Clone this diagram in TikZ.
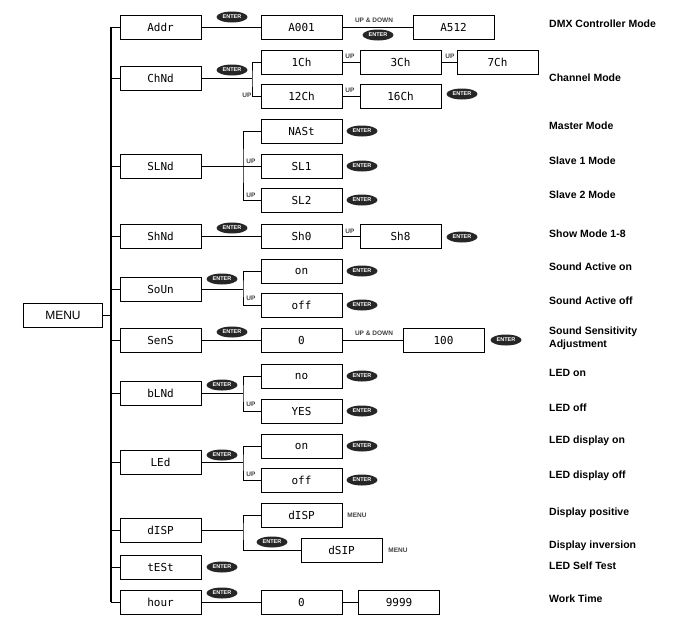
\documentclass[tikz,border=0pt]{standalone}
\usepackage{fontspec}
\setmainfont{Liberation Sans}
\newfontfamily\lcd{DejaVu Sans Mono}
\usetikzlibrary{shapes.geometric}
\begin{document}
\begin{tikzpicture}[x=1pt,y=-1pt,
  box/.style={draw,line width=0.8pt,minimum width=81pt,minimum height=24pt,inner sep=0pt,font=\lcd\fontsize{11}{11}\selectfont},
  ent/.style={ellipse,fill=black!85,text=white,inner sep=0pt,minimum width=31pt,minimum height=11pt,font=\bfseries\fontsize{5.5}{5.5}\selectfont},
  up/.style={font=\bfseries\fontsize{6.5}{6.5}\selectfont,text=black!75,inner sep=1pt},
  lab/.style={anchor=west,font=\bfseries\fontsize{10.5}{13}\selectfont,align=left,inner sep=0pt},
  ln/.style={line width=0.8pt}]
\useasboundingbox (0,0) rectangle (693,630);
\node[draw,line width=0.8pt,minimum width=79pt,minimum height=24pt,font=\fontsize{12}{12}\selectfont] (menu) at (63,315) {MENU};
% main column
\foreach \n/\t/\y in {addr/Addr/27,chnd/ChNd/78,slnd/SLNd/166,shnd/ShNd/236,soun/SoUn/289,sens/SenS/340,blnd/bLNd/393,led/LEd/462,disp/dISP/530,test/tESt/567,hour/hour/602}{
  \node[box] (\n) at (160.5,\y) {\t};
  \coordinate (s\n) at (111,\y);
  \draw[ln] (s\n) -- (\n.west);
}
\draw[line width=1.2pt] (saddr) -- (shour);
\draw[ln] (menu.east) -- (111,315);
% second column
\foreach \n/\t/\y in {a001/A001/27,c1/1Ch/62,c12/12Ch/96,nast/NASt/131,sl1/SL1/166,sl2/SL2/200,sh0/Sh0/236,son/on/271,soff/off/305,s0/0/340,no/no/376,yes/YES/411,lon/on/446,loff/off/480,dd/dISP/515,h0/0/602}{
  \node[box] (\n) at (301.5,\y) {\t};
}
\node[box] (dsip) at (341.5,550) {dSIP};
\node[box] (a512) at (453.5,27) {A512};
\node[box] (c3) at (400.5,62) {3Ch};
\node[box] (c7) at (497.5,62) {7Ch};
\node[box] (c16) at (400.5,96) {16Ch};
\node[box] (sh8) at (400.5,236) {Sh8};
\node[box] (s100) at (443.5,340) {100};
\node[box] (h9) at (399,602) {9999};
% connectors
\draw[ln] (addr) -- (a001);
\draw[ln] (a001) -- (a512);
\draw[ln] (chnd.east) -- (252,78) coordinate (jc);
\draw[ln] (c1.west) -| (jc) |- (c12.west);
\draw[ln] (c1) -- (c3); \draw[ln] (c3) -- (c7); \draw[ln] (c12) -- (c16);
\draw[ln] (slnd.east) -- (243,166) coordinate (js);
\draw[ln] (nast.west) -| (js) |- (sl2.west); \draw[ln] (js) -- (sl1.west);
\draw[ln] (shnd) -- (sh0); \draw[ln] (sh0) -- (sh8);
\draw[ln] (soun.east) -- (243,289) coordinate (jo);
\draw[ln] (son.west) -| (jo) |- (soff.west);
\draw[ln] (sens) -- (s0); \draw[ln] (s0) -- (s100);
\draw[ln] (blnd.east) -- (243,393) coordinate (jb);
\draw[ln] (no.west) -| (jb) |- (yes.west);
\draw[ln] (led.east) -- (243,462) coordinate (jl);
\draw[ln] (lon.west) -| (jl) |- (loff.west);
\draw[ln] (disp.east) -- (243,530) coordinate (jd);
\draw[ln] (dd.west) -| (jd) |- (dsip.west);
\draw[ln] (hour) -- (h0); \draw[ln] (h0) -- (h9);
% ENTER
\foreach \n/\x/\y in {e1/232/17,e2/378/35,e3/232/70,e4/462/94,e5/362/131,e6/362/166,e7/362/200,e8/232/228,e9/462/237,e10/222/279,e11/362/271,e12/362/305,e13/232/332,e14/506/340,e15/222/385,e16/362/376,e17/362/411,e18/222/455,e19/362/446,e20/362/480,e21/272/542,e22/222/567,e23/222/593}{
  \node[ent] (\n) at (\x,\y) {ENTER};
}
% UP labels
\node[up] (u1) at (374,20) {UP \& DOWN};
\node[up] (u2) at (350,56) {UP};
\node[up] (u3) at (450,56) {UP};
\node[up] (u4) at (247,95) {UP};
\node[up] (u5) at (350,90) {UP};
\node[up] (u6) at (251,161) {UP};
\node[up] (u7) at (251,195) {UP};
\node[up] (u8) at (350,231) {UP};
\node[up] (u9) at (251,298) {UP};
\node[up] (u10) at (374,333) {UP \& DOWN};
\node[up] (u11) at (251,404) {UP};
\node[up] (u12) at (251,474) {UP};
\node[up] (m1) at (357,515) {MENU};
\node[up] (m2) at (398,550) {MENU};
% right labels
\node[lab] (l1) at (549,24) {DMX Controller Mode};
\node[lab] (l2) at (549,78) {Channel Mode};
\node[lab] (l3) at (549,126) {Master Mode};
\node[lab] (l4) at (549,161) {Slave 1 Mode};
\node[lab] (l5) at (549,195) {Slave 2 Mode};
\node[lab] (l6) at (549,234) {Show Mode 1-8};
\node[lab] (l7) at (549,267) {Sound Active on};
\node[lab] (l8) at (549,301) {Sound Active off};
\node[lab] (l9) at (549,338) {Sound Sensitivity\\Adjustment};
\node[lab] (l10) at (549,373) {LED on};
\node[lab] (l11) at (549,408) {LED off};
\node[lab] (l12) at (549,441) {LED display on};
\node[lab] (l13) at (549,476) {LED display off};
\node[lab] (l14) at (549,513) {Display positive};
\node[lab] (l15) at (549,546) {Display inversion};
\node[lab] (l16) at (549,566) {LED Self Test};
\node[lab] (l17) at (549,599) {Work Time};
\end{tikzpicture}
\end{document}
